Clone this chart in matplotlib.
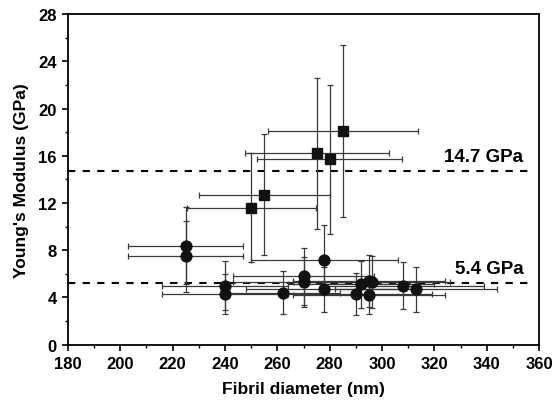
import numpy as np
import matplotlib as mpl
mpl.use('Agg')
import matplotlib.pyplot as plt
from matplotlib.ticker import MultipleLocator

plt.rcParams['font.family'] = ['Liberation Sans', 'DejaVu Sans']
plt.rcParams['font.weight'] = 'bold'

# squares (high modulus group)
sq_x = [250, 255, 275, 280, 285]
sq_y = [11.6, 12.7, 16.2, 15.7, 18.1]
sq_xerr = [24.7, 25.0, 27.5, 27.8, 28.6]
sq_yerr = [4.6, 5.1, 6.4, 6.3, 7.3]

# circles (low modulus group)
ci_x = [225, 225, 240, 240, 262, 270, 270, 278, 278, 290, 292, 295, 296, 295, 308, 313]
ci_y = [8.4, 7.5, 5.0, 4.3, 4.4, 5.8, 5.3, 7.2, 4.7, 4.3, 5.1, 5.4, 5.3, 4.2, 5.0, 4.7]
ci_xerr = [22, 22, 24, 24, 22, 27, 27, 28, 30, 29, 28, 29, 30, 29, 31, 31]
ci_yerr = [3.3, 3.0, 2.1, 1.7, 1.8, 2.4, 2.1, 2.9, 1.9, 1.75, 2.0, 2.2, 2.2, 1.6, 2.0, 1.9]

levels = [14.7, 5.2]
level_labels = ['14.7 GPa', '5.4 GPa']

fig = plt.figure(figsize=(5.54, 4.06), dpi=100)
ax = fig.add_axes([0.1227, 0.1485, 0.8503, 0.8145])

ax.hlines(levels, 180, 357, colors='black', linestyles=(0, (3.5, 3.5)), linewidth=1.5, zorder=1)

ax.errorbar(ci_x, ci_y, xerr=ci_xerr, yerr=ci_yerr, fmt='o', color='#111111',
            ecolor='#3a3a3a', elinewidth=0.9, capsize=2.5, capthick=0.9,
            markersize=7.8, zorder=3)
ax.errorbar(sq_x, sq_y, xerr=sq_xerr, yerr=sq_yerr, fmt='s', color='#111111',
            ecolor='#3a3a3a', elinewidth=0.9, capsize=2.5, capthick=0.9,
            markersize=7.2, zorder=3)

ax.text(354, 15.25, level_labels[0], ha='right', va='bottom', fontsize=13.5, fontweight='bold')
ax.text(354, 5.75, level_labels[1], ha='right', va='bottom', fontsize=13.5, fontweight='bold')

ax.set_xlim(180, 360)
ax.set_ylim(0, 28)
ax.xaxis.set_major_locator(MultipleLocator(20))
ax.xaxis.set_minor_locator(MultipleLocator(10))
ax.yaxis.set_major_locator(MultipleLocator(4))
ax.yaxis.set_minor_locator(MultipleLocator(2))
ax.tick_params(which='major', direction='out', length=4, width=1.2, labelsize=12, pad=4)
ax.tick_params(which='minor', direction='out', length=2.5, width=1.0)
for lab in ax.get_xticklabels() + ax.get_yticklabels():
    lab.set_fontweight('bold')
for s in ax.spines.values():
    s.set_linewidth(1.3)

ax.set_xlabel('Fibril diameter (nm)', fontsize=12.5, fontweight='bold', labelpad=7)
ax.set_ylabel("Young's Modulus (GPa)", fontsize=12.5, fontweight='bold', labelpad=7)

fig.savefig('out.png', dpi=100)
